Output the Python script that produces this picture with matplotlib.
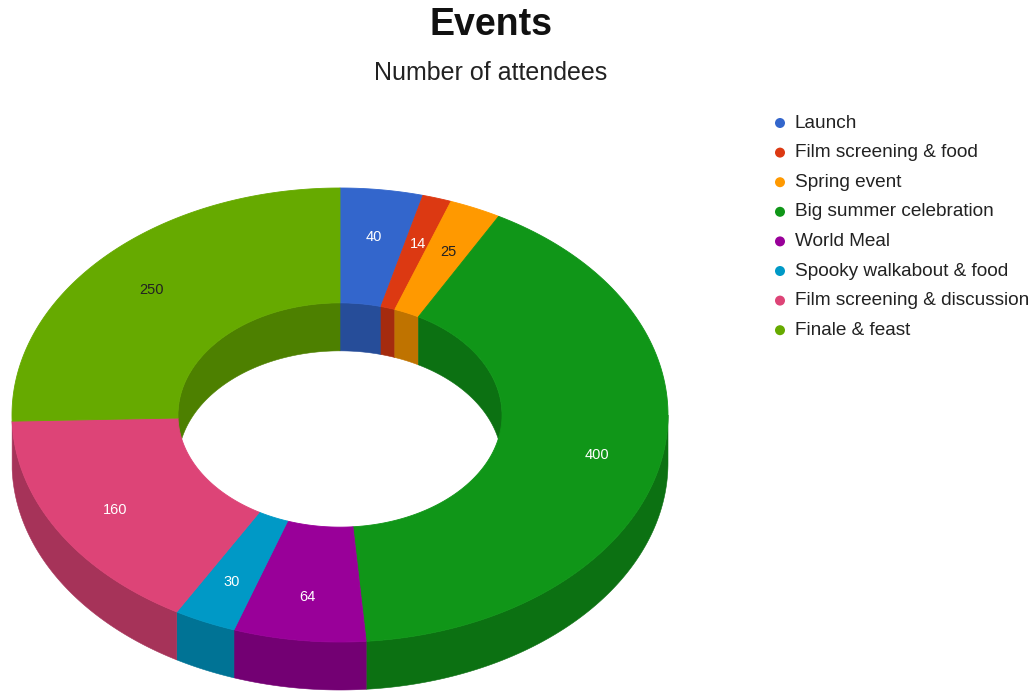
import numpy as np
import matplotlib
matplotlib.use("Agg")
import matplotlib.pyplot as plt
from matplotlib.colors import to_rgb
from matplotlib.patches import Polygon, Circle

plt.rcParams["font.family"] = ["Liberation Sans", "DejaVu Sans"]

categories = ["Launch", "Film screening & food", "Spring event",
              "Big summer celebration", "World Meal", "Spooky walkabout & food",
              "Film screening & discussion", "Finale & feast"]
attendees = [40, 14, 25, 400, 64, 30, 160, 250]
colors = ["#3366cc", "#dc3912", "#ff9900", "#109618",
          "#990099", "#0099c6", "#dd4477", "#66aa00"]
label_colors = ["white", "white", "#222222", "white",
                "white", "white", "white", "#222222"]

W, H = 1036, 693
CX, CY = 340, 415          # centre of the top face
RX, RY = 328, 227          # outer ellipse radii
HOLE = 0.494               # inner radius / outer radius
DEPTH = 48                 # thickness of the ring
LABEL_R = 0.8

# which part of each wall faces the viewer (degrees, clockwise from 12 o'clock)
OUTER_VISIBLE = [(90, 270)]
INNER_VISIBLE = [(0, 90), (270, 360)]


def shade(c, k=0.75):
    return tuple(v * k for v in to_rgb(c))


def arc(a, b, scale, dy=0.0, n=120):
    t = np.radians(np.linspace(a, b, n))
    return np.column_stack([CX + RX * scale * np.sin(t),
                            CY - RY * scale * np.cos(t) + dy])


def wall(ax, a, b, scale, ranges, color):
    for lo, hi in ranges:
        s, e = max(a, lo), min(b, hi)
        if e - s < 2:        # edge-on sliver, nothing to see
            continue
        top = arc(s, e, scale)
        bot = arc(s, e, scale, dy=DEPTH)[::-1]
        ax.add_patch(Polygon(np.vstack([top, bot]), closed=True,
                             fc=color, ec=color, lw=0.4, zorder=1))


fig = plt.figure(figsize=(W / 100, H / 100), dpi=100)
ax = fig.add_axes([0, 0, 1, 1])
ax.set_xlim(0, W)
ax.set_ylim(H, 0)
ax.axis("off")

total = float(sum(attendees))
bounds = np.concatenate([[0], np.cumsum(attendees)]) / total * 360

# walls first, the top faces are painted over them
for i, c in enumerate(colors):
    a, b = bounds[i], bounds[i + 1]
    wall(ax, a, b, 1.0, OUTER_VISIBLE, shade(c))
    wall(ax, a, b, HOLE, INNER_VISIBLE, shade(c))

for i, c in enumerate(colors):
    a, b = bounds[i], bounds[i + 1]
    pts = np.vstack([arc(a, b, 1.0), arc(a, b, HOLE)[::-1]])
    ax.add_patch(Polygon(pts, closed=True, fc=c, ec=c, lw=0.6, zorder=2))

    mid = np.radians((a + b) / 2)
    ax.text(CX + RX * LABEL_R * np.sin(mid),
            CY - RY * LABEL_R * np.cos(mid) + 2,
            str(attendees[i]), color=label_colors[i], fontsize=10.5,
            ha="center", va="center", zorder=3)

# titles
ax.text(491, 25, "Events", fontsize=27, fontweight="bold", color="#111111",
        ha="center", va="center")
ax.text(491, 73, "Number of attendees", fontsize=18, color="#222222",
        ha="center", va="center")

# legend
for i, (name, c) in enumerate(zip(categories, colors)):
    y = 123 + i * 29.6
    ax.add_patch(Circle((780, y), 5, fc=c, ec="none"))
    ax.text(795, y, name, fontsize=13.7, color="#222222", ha="left", va="center")

fig.savefig("out.png", dpi=100)
